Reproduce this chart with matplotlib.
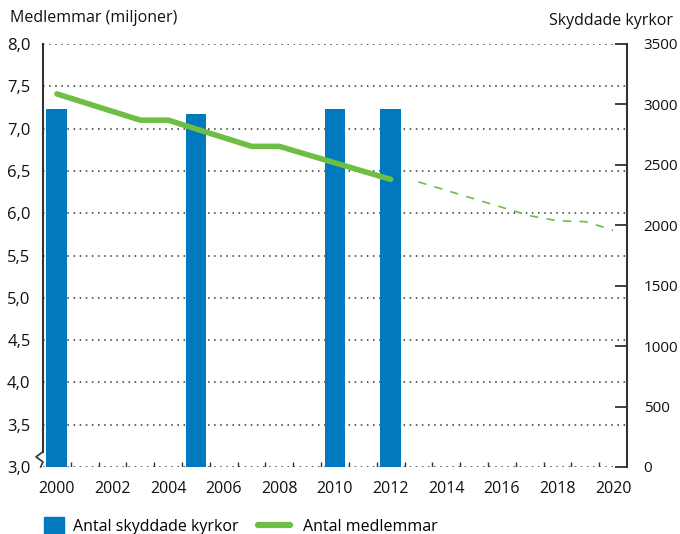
import numpy as np
import matplotlib
matplotlib.use("Agg")
import matplotlib.pyplot as plt
from matplotlib.ticker import FuncFormatter

plt.rcParams['font.family'] = ['Open Sans', 'DejaVu Sans']

# data
bar_years = [2000, 2005, 2010, 2012]
kyrkor = [2965, 2920, 2960, 2960]

line_years = [2000, 2003, 2004, 2007, 2008, 2012]
medlemmar = [7.41, 7.10, 7.10, 6.79, 6.79, 6.40]

proj_years = [2013, 2014, 2015, 2016, 2017, 2018, 2019, 2020]
prognos = [6.37, 6.27, 6.17, 6.07, 5.97, 5.91, 5.90, 5.80]

left_ticks = [3.0, 3.5, 4.0, 4.5, 5.0, 5.5, 6.0, 6.5, 7.0, 7.5, 8.0]
right_ticks = [0, 500, 1000, 1500, 2000, 2500, 3000, 3500]
year_ticks = list(range(2000, 2021, 2))

blue = '#0079BF'
green = '#6DBE45'
dark = '#333333'
txt = '#111111'

fig = plt.figure(figsize=(6.8, 5.34), dpi=100)
rect = [43 / 680, 1 - 467 / 534, (627 - 43) / 680, (467 - 44) / 534]

ax = fig.add_axes(rect)
ax.set_xlim(1999.5, 2020.5)
ax.set_ylim(3, 8)
ax.set_zorder(1)

# dotted grid
for v in left_ticks:
    ax.axhline(v, color=dark, lw=1.1, ls=(0, (1, 3)), zorder=0)

for s in ['top', 'right', 'bottom']:
    ax.spines[s].set_visible(False)
ax.spines['left'].set_color(dark)
ax.spines['left'].set_linewidth(1.5)
ax.spines['left'].set_bounds(3.18, 8)

# axis break zigzag
ax.plot([0, -0.012, 0, -0.004], [0.036, 0.024, 0.012, 0.0],
        transform=ax.transAxes, color=dark, lw=1.2, clip_on=False)

ax.set_yticks(left_ticks)
ax.yaxis.set_major_formatter(FuncFormatter(lambda v, p: f"{v:.1f}".replace('.', ',')))
ax.tick_params(axis='y', length=0, pad=9, labelsize=12, colors=txt)

ax.set_xticks(year_ticks)
ax.tick_params(axis='x', length=0, pad=10, labelsize=11.5, colors=txt)

# half-year marks along the base
ax.vlines(np.arange(2000.5, 2020, 1), 3, 3.06, color=dark, lw=1.0, zorder=0)

# bars on right scale
axb = ax.twinx()
axb.set_zorder(2)
axb.patch.set_visible(False)
axb.set_ylim(0, 3500)
axb.bar(bar_years, kyrkor, width=0.75, color=blue)
for s in ['top', 'left', 'bottom']:
    axb.spines[s].set_visible(False)
axb.spines['right'].set_color(dark)
axb.spines['right'].set_linewidth(1.5)
axb.set_yticks(right_ticks)
axb.tick_params(axis='y', direction='in', length=9, width=1.3,
                pad=12, labelsize=11, labelcolor=txt, color=dark)

# line on left scale, topmost
axl = ax.twinx()
axl.set_zorder(3)
axl.patch.set_visible(False)
axl.set_ylim(3, 8)
axl.axis('off')
axl.plot(line_years, medlemmar, color=green, lw=4, solid_capstyle='round')
axl.plot(proj_years, prognos, color=green, lw=1.2, ls=(0, (5, 5)))

fig.text(10 / 680, 1 - 18 / 534, 'Medlemmar (miljoner)', fontsize=11.5,
         va='center', ha='left', color=txt)
fig.text(673 / 680, 1 - 21 / 534, 'Skyddade kyrkor', fontsize=11.5,
         va='center', ha='right', color=txt)

# legend, two pieces so the handles can have different widths
h1 = plt.Rectangle((0, 0), 1, 1, color=blue)
h2 = plt.Line2D([], [], color=green, lw=4.5, solid_capstyle='round')
fig.legend([h1], ['Antal skyddade kyrkor'], loc='lower left',
           bbox_to_anchor=(30 / 680, -0.028), frameon=False,
           fontsize=11.5, handlelength=1.25, handleheight=1.25,
           handletextpad=0.55)
fig.legend([h2], ['Antal medlemmar'], loc='lower left',
           bbox_to_anchor=(244 / 680, -0.028), frameon=False,
           fontsize=11.5, handlelength=2.0, handletextpad=0.8)

fig.savefig('out.png', dpi=100)
